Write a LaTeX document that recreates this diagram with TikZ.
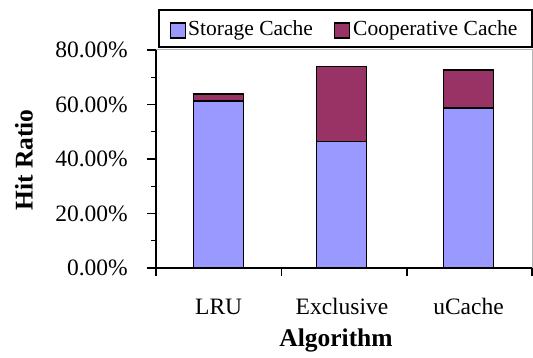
\documentclass[tikz,border=0pt]{standalone}
\usepackage{fontspec}
\setmainfont{Liberation Serif}
\definecolor{storage}{HTML}{9999FF}
\definecolor{coop}{HTML}{993366}
\definecolor{plotframe}{HTML}{B4B4B4}
\begin{document}
\begin{tikzpicture}[x=1pt,y=-1pt,
  axisline/.style={line width=1.4pt,black},
  barbox/.style={line width=1.5pt,black},
  ticklabel/.style={anchor=base east,inner sep=0pt,font=\fontsize{23.5}{26}\selectfont},
  catlabel/.style={anchor=base,inner sep=0pt,font=\fontsize{23.5}{26}\selectfont},
  axistitle/.style={inner sep=0pt,font=\fontsize{25.5}{28}\selectfont\bfseries},
  legendtext/.style={anchor=base west,inner sep=0pt,font=\fontsize{21.5}{24}\selectfont}]
\useasboundingbox (0,0) rectangle (533,358);
% value -> vertical position: zero at 268, 2.725 per percent
\def\yz{268}
\def\ys{2.725}
% plot area frame (top and right sides)
\draw[plotframe,line width=0.8pt] (156,49.5) -- (532,49.5) -- (532,268);
% bars: storage cache below, cooperative cache stacked on top
\foreach \xl/\s/\t in {193.3/61.3/63.9, 316.7/46.5/73.9, 443.3/58.8/72.7}{
  \draw[barbox,fill=storage] (\xl,\yz) rectangle ({\xl+50},{\yz-\ys*\s});
  \draw[barbox,fill=coop] ({\xl},{\yz-\ys*\s}) rectangle ({\xl+50},{\yz-\ys*\t});
}
% value axis with ticks and labels
\draw[axisline] (156,{\yz-\ys*80}) -- (156,\yz);
\foreach \v in {0,20,40,60,80}{
  \draw[axisline] (147,{\yz-\ys*\v}) -- (156,{\yz-\ys*\v});
  \node[ticklabel] (tl\v) at (128,{\yz-\ys*\v+8}) {\v.00\%};
}
\foreach \v in {10,30,50,70}{
  \draw[axisline] (151,{\yz-\ys*\v}) -- (156,{\yz-\ys*\v});
}
% category axis
\draw[axisline] (156,\yz) -- (532,\yz);
\foreach \x in {156,281.7,406.8,532}{
  \draw[axisline] (\x,\yz) -- (\x,276);
}
\node[catlabel] (lru) at (218.7,314) {LRU};
\node[catlabel] (excl) at (342,314) {Exclusive};
\node[catlabel] (ucache) at (468.5,314) {uCache};
% axis titles
\node[axistitle,anchor=base] (xtitle) at (336,346) {Algorithm};
\node[axistitle,rotate=90] (ytitle) at (24,160) {Hit Ratio};
% legend
\draw[line width=1.3pt] (159,10) rectangle (532,47);
\draw[line width=1.2pt,fill=storage] (170.5,23) rectangle (185.5,38);
\node[legendtext] (lg1) at (188,35.5) {Storage Cache};
\draw[line width=1.2pt,fill=coop] (334.5,23) rectangle (349.5,38);
\node[legendtext] (lg2) at (353,35.5) {Cooperative Cache};
\end{tikzpicture}
\end{document}
